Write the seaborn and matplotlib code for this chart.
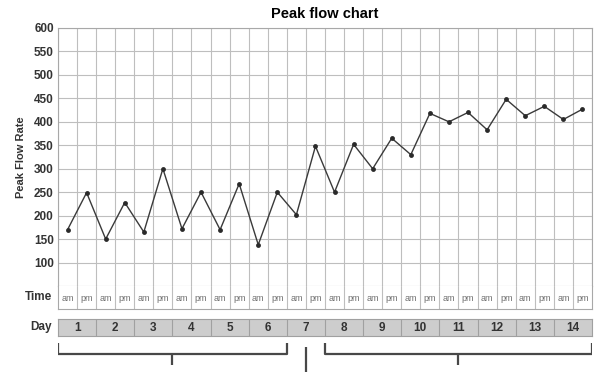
import numpy as np
import pandas as pd
import matplotlib
matplotlib.use("Agg")
import matplotlib.pyplot as plt
import seaborn as sns

# ---- data ----
days = list(range(1, 15))
times = ["am", "pm"] * 14
peak_flow = [170, 249, 150, 228, 165, 300, 172, 250, 170, 268, 138, 250, 202, 348,
             250, 352, 300, 365, 330, 418, 400, 420, 383, 448, 413, 433, 405, 427]
y_ticks = [100, 150, 200, 250, 300, 350, 400, 450, 500, 550, 600]
title = "Peak flow chart"
y_label = "Peak Flow Rate"

df = pd.DataFrame({"idx": np.arange(len(peak_flow)), "flow": peak_flow, "time": times})

sns.set_theme(style="white")
plt.rcParams["font.family"] = ["Liberation Sans", "DejaVu Sans"]

W, H = 597, 372
fig = plt.figure(figsize=(W / 100, H / 100), dpi=100)

def rect(x0, y0, x1, y1):
    return [x0 / W, 1 - y1 / H, (x1 - x0) / W, (y1 - y0) / H]

L, R = 58, 592
n = len(peak_flow)
xlim = (-0.5, n - 0.5)
grid_c = "#bebebe"
edge_c = "#a8a8a8"

# main chart
ax = fig.add_axes(rect(L, 28, R, 286))
sns.lineplot(data=df, x="idx", y="flow", ax=ax, color="#3a3a3a", linewidth=1.0,
             marker="o", markersize=3.5, markeredgewidth=0, markerfacecolor="#2a2a2a")
ax.set_xlim(*xlim)
ax.set_ylim(50, 600)
ax.set_yticks(y_ticks)
ax.set_yticklabels([str(v) for v in y_ticks], fontweight="bold", fontsize=8.5, color="#333333")
ax.set_xticks(np.arange(-0.5, n, 1))
ax.set_xticklabels([])
ax.tick_params(length=0, pad=3)
ax.grid(True, color=grid_c, linewidth=0.8)
for s in ax.spines.values():
    s.set_color(edge_c)
    s.set_linewidth(0.8)
ax.set_xlabel("")
ax.set_ylabel(y_label, fontweight="bold", fontsize=8, color="#333333", labelpad=6)
ax.set_title(title, fontweight="bold", fontsize=10.5, color="black", pad=7)

# time row
axt = fig.add_axes(rect(L, 286, R, 309))
axt.set_xlim(*xlim)
axt.set_ylim(0, 1)
for i, t in enumerate(times):
    axt.text(i, 0.45, t, ha="center", va="center", fontsize=6.5, color="#707070",
             family=["Liberation Sans Narrow", "Liberation Sans", "DejaVu Sans"])
for b in np.arange(0.5, n - 0.5, 1):
    axt.axvline(b, color=grid_c, linewidth=0.8)
axt.set_xticks([]); axt.set_yticks([])
for s in axt.spines.values():
    s.set_color(edge_c); s.set_linewidth(0.8)
axt.spines["top"].set_visible(False)
fig.text((L - 6) / W, 1 - 297 / H, "Time", ha="right", va="center",
         fontweight="bold", fontsize=8.5, color="#333333")

# day bar
axd = fig.add_axes(rect(L, 319, R, 336))
axd.set_xlim(*xlim)
axd.set_ylim(0, 1)
axd.set_facecolor("#cdcdcd")
for k, d in enumerate(days):
    axd.text(2 * k + 0.5, 0.45, str(d), ha="center", va="center",
             fontweight="bold", fontsize=8.5, color="#333333")
for b in np.arange(1.5, n - 0.5, 2):
    axd.axvline(b, color="#a0a0a0", linewidth=0.8)
axd.set_xticks([]); axd.set_yticks([])
for s in axd.spines.values():
    s.set_color("#a0a0a0"); s.set_linewidth(0.8)
fig.text((L - 6) / W, 1 - 327 / H, "Day", ha="right", va="center",
         fontweight="bold", fontsize=8.5, color="#333333")

# brackets
axb = fig.add_axes(rect(L, 340, R, 372))
axb.set_xlim(*xlim)
axb.set_ylim(32, 0)
axb.axis("off")
bc = "#484848"
lw = 1.6
def bracket(a, b):
    axb.plot([a, a, b, b], [3, 14, 14, 3], color=bc, linewidth=lw, solid_capstyle="butt")
    m = (a + b) / 2
    axb.plot([m, m], [14, 25], color=bc, linewidth=lw, solid_capstyle="butt")
bracket(-0.5, 11.5)
bracket(13.5, 27.5)
axb.plot([12.5, 12.5], [7, 32], color=bc, linewidth=lw, solid_capstyle="butt")

fig.savefig("out.png", dpi=100)
